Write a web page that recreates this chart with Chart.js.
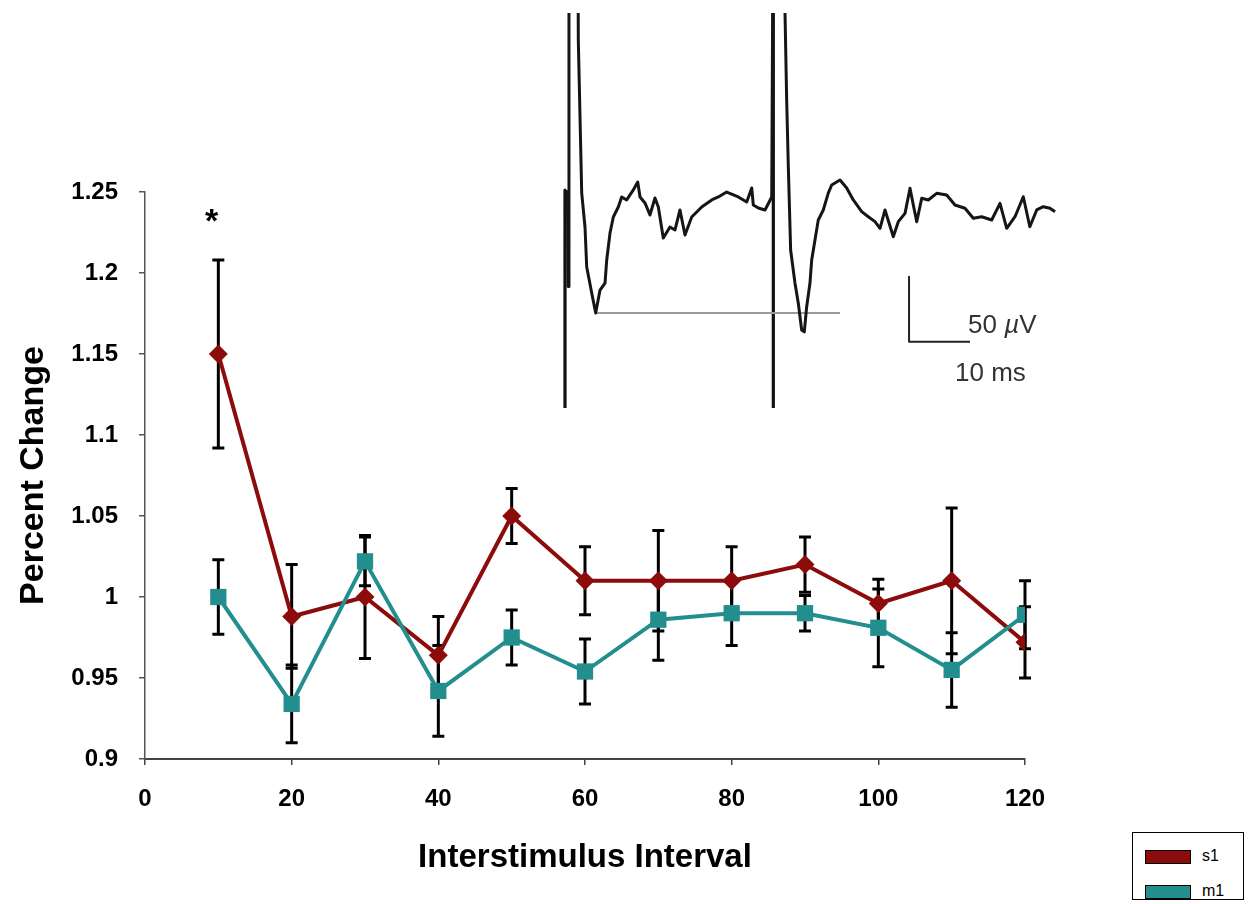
<!DOCTYPE html>
<html>
<head>
<meta charset="utf-8">
<title>Percent Change vs Interstimulus Interval</title>
<script src="https://cdn.jsdelivr.net/npm/chart.js@4.4.1/dist/chart.umd.min.js"></script>
<style>
  html, body { margin: 0; padding: 0; background: #fff; }
  #wrap { position: relative; width: 1251px; height: 904px; overflow: hidden;
          font-family: "Liberation Sans", Arial, sans-serif; }
  #main { position: absolute; left: 0; top: 0; }
  #inset { position: absolute; left: 556px; top: 13px; }
  .note { position: absolute; white-space: nowrap; line-height: 1; }
  #star { left: 205px; top: 203px; font-size: 34px; font-weight: bold; }
  #uv { left: 968px; top: 311px; font-size: 26px; color: #333; }
  #ms { left: 955px; top: 359px; font-size: 26px; color: #333; }
  #legend { position: absolute; left: 1132px; top: 832px; width: 110px; height: 66px;
            border: 1.5px solid #000; background: #fff; }
  .item { position: absolute; left: 12px; height: 14px; font-size: 16px; }
  .item span.sw { position: absolute; left: 0; top: 0; width: 44px; height: 12px; border: 1px solid #000; }
  .item span.lb { position: absolute; left: 57px; top: -3px; }
</style>
</head>
<body>
<div id="wrap">
  <canvas id="main" width="1251" height="904"></canvas>
  <canvas id="inset" width="503" height="395"></canvas>
  <div class="note" id="star">*</div>
  <div class="note" id="uv">50 <i>µ</i>V</div>
  <div class="note" id="ms">10 ms</div>
  <div id="legend"></div>
</div>
<script>
// интервалы (мс) и средние значения
const intervals = [10, 20, 30, 40, 50, 60, 70, 80, 90, 100, 110, 120];
const s1Values = [1.15, 0.988, 1.0, 0.964, 1.05, 1.01, 1.01, 1.01, 1.02, 0.996, 1.01, 0.972];
const s1Errors = [0.058, 0.032, 0.038, 0.024, 0.017, 0.021, 0.031, 0.021, 0.017, 0.015, 0.045, 0.022];
const m1Values = [1.0, 0.934, 1.022, 0.942, 0.975, 0.954, 0.986, 0.99, 0.99, 0.981, 0.955, 0.989];
const m1Errors = [0.023, 0.024, 0.015, 0.028, 0.017, 0.02, 0.025, 0.02, 0.011, 0.024, 0.023, 0.021];
const seriesNames = ["s1", "m1"];
const seriesColors = ["#8c0c0c", "#238e8e"];

// вставка: запись потенциала (мс, мкВ)
const traceTime = [0.4, 0.5, 0.65, 2.1, 2.18, 2.74, 3.28, 3.56, 4.38, 5.03, 5.74, 6.56, 6.84, 7.38,
  7.92, 8.74, 9.29, 10.11, 11.2, 11.92, 12.3, 13.11, 13.93, 14.75, 15.3, 16.11, 17.21, 18.03,
  18.85, 19.67, 20.77, 22.41, 24.05, 25.13, 26.51, 28.41, 29.79, 30.61, 30.87, 31.69, 32.79,
  33.89, 34.15, 36.0, 36.07, 36.34, 36.61, 36.99, 37.7, 38.24, 38.8, 39.23, 39.62, 40.16, 40.44,
  40.98, 41.52, 42.34, 43.16, 43.72, 45.08, 46.18, 47.26, 48.64, 49.72, 50.82, 51.64, 52.46,
  53.82, 54.64, 55.74, 56.56, 57.1, 57.66, 58.48, 59.56, 60.93, 62.57, 63.93, 65.57, 66.93,
  68.31, 69.95, 71.31, 72.41, 73.77, 75.13, 76.2, 77.33, 78.41, 79.51, 80.33];
const traceVolt = [6, -68, 250, 250, 121.5, 3.8, -22.3, -53.1, -73.1, -88.5, -70.8, -65.4, -47.7, -26.9,
  -14.6, -6.9, 0.8, -1.5, 6.2, 12.3, 0.8, -3.8, -13.1, 0, -6.9, -30.8, -22.3, -24.6,
  -9.2, -28.5, -14.6, -6.9, -1.5, 0.8, 4.6, 0.8, -3.1, 7.7, -5.4, -7.7, -9.2,
  0.8, 250, 250, 142, 75.4, 24.1, -40, -65.4, -80.8, -101.5, -103, -83.6, -65.4, -47.7,
  -32.3, -16.9, -9.2, 3.8, 10, 13.8, 7.7, -1.5, -10.5, -14.4, -18.2, -23.3, -9.2,
  -29.8, -18.2, -11.8, 7.5, -5.4, -18.2, -0.2, -1.5, 3.6, 2.3, -5.4, -7.9, -15.6,
  -14.4, -16.9, -4.1, -23.3, -14.4, 1, -22.1, -9.2, -6.7, -7.9, -10.5];
const stimTimes = [0, 34.15];
const stimTops = [6, 250];
const stimBottom = -161;
const refLevel = -88.5;
const refRange = [5.0, 45.1];
const barTime = [56.4, 66.4];     // 10 мс
const barVolt = [-60.5, -110.5];  // 50 мкВ

// геометрия вставки
const PX_PER_MS = 6.1, PX_PER_UV = 1.3;
const INSET_W = 503, INSET_H = 395, ZERO_X = 9, ZERO_Y = 185;

const FONT = '"Liberation Sans", Arial, sans-serif';

// планки погрешностей
const errorBars = {
  id: "errorBars",
  beforeDatasetsDraw(chart) {
    const ctx = chart.ctx;
    const xs = chart.scales.x, ys = chart.scales.y;
    ctx.save();
    ctx.strokeStyle = "#000";
    ctx.lineWidth = 3;
    chart.data.datasets.forEach((ds) => {
      if (!ds.errors) return;
      ds.data.forEach((p, i) => {
        const e = ds.errors[i];
        const x = xs.getPixelForValue(p.x);
        const top = ys.getPixelForValue(p.y + e);
        const bot = ys.getPixelForValue(p.y - e);
        ctx.beginPath();
        ctx.moveTo(x, top); ctx.lineTo(x, bot);
        ctx.moveTo(x - 6, top); ctx.lineTo(x + 6, top);
        ctx.moveTo(x - 6, bot); ctx.lineTo(x + 6, bot);
        ctx.stroke();
      });
    });
    ctx.restore();
  },
};

function points(xs, ys) {
  return xs.map((x, i) => ({ x: x, y: ys[i] }));
}

new Chart(document.getElementById("main"), {
  type: "line",
  data: {
    datasets: [
      {
        label: seriesNames[0],
        data: points(intervals, s1Values),
        errors: s1Errors,
        borderColor: seriesColors[0],
        backgroundColor: seriesColors[0],
        borderWidth: 4,
        pointStyle: "rectRot",
        pointRadius: 9.5,
        pointBorderWidth: 0,
        order: 1,
      },
      {
        label: seriesNames[1],
        data: points(intervals, m1Values),
        errors: m1Errors,
        borderColor: seriesColors[1],
        backgroundColor: seriesColors[1],
        borderWidth: 4,
        pointStyle: "rect",
        pointRadius: 11.5,
        pointBorderWidth: 0,
        order: 0,
      },
    ],
  },
  options: {
    responsive: false,
    animation: false,
    layout: { padding: { top: 192, right: 226, bottom: 0, left: 0 } },
    plugins: { legend: { display: false }, tooltip: { enabled: false } },
    scales: {
      x: {
        type: "linear",
        min: 0,
        max: 120,
        afterFit: (s) => { s.height = 145; },
        border: { display: true, color: "#444", width: 2 },
        grid: { drawOnChartArea: false, drawTicks: true, tickLength: 6, color: "#444", lineWidth: 1.5 },
        ticks: { stepSize: 20, padding: 20, color: "#000", font: { family: FONT, size: 24, weight: "bold" } },
        title: {
          display: true,
          text: "Interstimulus Interval",
          color: "#000",
          padding: { top: 0, bottom: 26 },
          font: { family: FONT, size: 33, weight: "bold" },
        },
      },
      y: {
        min: 0.9,
        max: 1.25,
        afterFit: (s) => { s.width = 145; },
        border: { display: true, color: "#555", width: 1.5 },
        grid: { drawOnChartArea: false, drawTicks: true, tickLength: 6, color: "#555", lineWidth: 1.5 },
        ticks: {
          stepSize: 0.05,
          padding: 21,
          color: "#000",
          font: { family: FONT, size: 24, weight: "bold" },
          callback: (v) => String(+v.toFixed(2)),
        },
        title: {
          display: true,
          text: "Percent Change",
          color: "#000",
          padding: { top: 13, bottom: 0 },
          font: { family: FONT, size: 34, weight: "bold" },
        },
      },
    },
  },
  plugins: [errorBars],
});

// вставка с записью
const insetSets = [
  {
    data: points(traceTime, traceVolt),
    borderColor: "#151515",
    borderWidth: 3,
  },
  {
    data: points([refRange[0], refRange[1]], [refLevel, refLevel]),
    borderColor: "#9a9a9a",
    borderWidth: 2,
  },
  {
    data: points([barTime[0], barTime[0], barTime[1]], [barVolt[0], barVolt[1], barVolt[1]]),
    borderColor: "#222",
    borderWidth: 2,
  },
];
stimTimes.forEach((t, i) => {
  insetSets.push({
    data: points([t, t], [stimTops[i], stimBottom]),
    borderColor: "#111",
    borderWidth: 3.2,
  });
});
insetSets.forEach((d) => {
  d.pointRadius = 0;
  d.showLine = true;
  d.tension = 0;
  d.borderJoinStyle = "round";
});

new Chart(document.getElementById("inset"), {
  type: "scatter",
  data: { datasets: insetSets },
  options: {
    responsive: false,
    animation: false,
    layout: { padding: 0 },
    plugins: { legend: { display: false }, tooltip: { enabled: false } },
    scales: {
      x: { display: false, min: -ZERO_X / PX_PER_MS, max: (INSET_W - ZERO_X) / PX_PER_MS },
      y: { display: false, min: -(INSET_H - ZERO_Y) / PX_PER_UV, max: ZERO_Y / PX_PER_UV },
    },
  },
});

// легенда
const legend = document.getElementById("legend");
seriesNames.forEach((name, i) => {
  const item = document.createElement("div");
  item.className = "item";
  item.style.top = (17 + i * 35) + "px";
  item.innerHTML = `<span class="sw" style="background:${seriesColors[i]}"></span><span class="lb">${name}</span>`;
  legend.appendChild(item);
});
</script>
</body>
</html>
